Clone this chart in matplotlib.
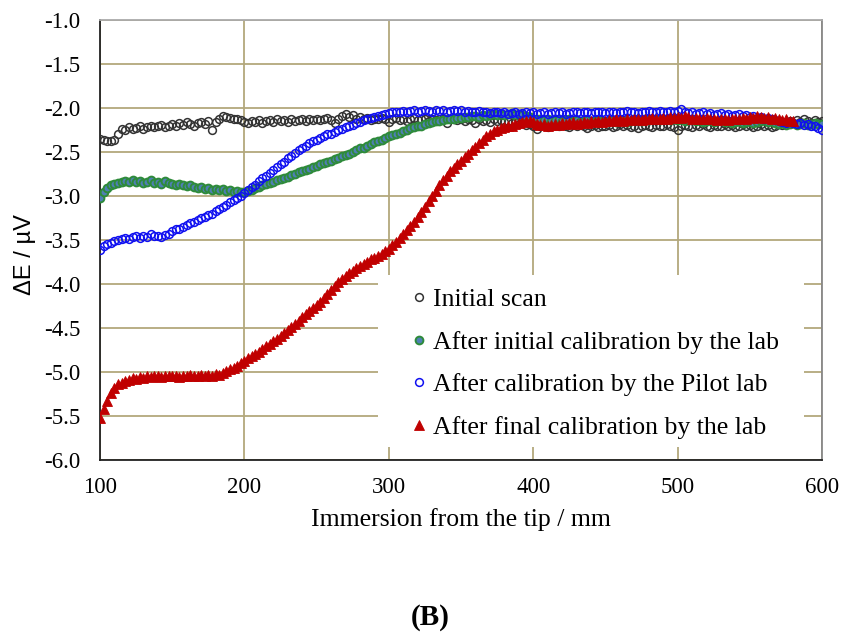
import numpy as np
import matplotlib
matplotlib.use("Agg")
import matplotlib.pyplot as plt
from matplotlib.patches import Rectangle

plt.rcParams["axes.unicode_minus"] = False

# Immersion positions (mm) - scans sampled every 2.5 mm
immersion = np.arange(100, 600.1, 2.5)
immersion_final = np.arange(100, 580.1, 2.5)

initial_scan = [
    -2.35, -2.36, -2.38, -2.37, -2.36, -2.29, -2.24, -2.25, -2.22, -2.24, -2.23, -2.21, -2.24, -2.22, -2.20, -2.22, -2.21, -2.19, -2.22, -2.20,
    -2.18, -2.20, -2.17, -2.19, -2.16, -2.18, -2.20, -2.17, -2.16, -2.18, -2.15, -2.25, -2.16, -2.12, -2.09, -2.10, -2.11, -2.12, -2.13, -2.14,
    -2.16, -2.17, -2.15, -2.16, -2.14, -2.17, -2.15, -2.14, -2.16, -2.13, -2.15, -2.14, -2.16, -2.13, -2.15, -2.14, -2.12, -2.15, -2.13, -2.14,
    -2.12, -2.14, -2.13, -2.11, -2.14, -2.17, -2.12, -2.09, -2.07, -2.10, -2.08, -2.12, -2.10, -2.13, -2.11, -2.14, -2.12, -2.13, -2.11, -2.12,
    -2.16, -2.13, -2.11, -2.14, -2.12, -2.15, -2.13, -2.11, -2.14, -2.12, -2.13, -2.15, -2.12, -2.14, -2.13, -2.12, -2.17, -2.13, -2.12, -2.14,
    -2.13, -2.15, -2.12, -2.14, -2.17, -2.13, -2.15, -2.14, -2.16, -2.13, -2.15, -2.14, -2.16, -2.15, -2.17, -2.16, -2.18, -2.17, -2.19, -2.18,
    -2.20, -2.24, -2.21, -2.19, -2.22, -2.20, -2.18, -2.21, -2.19, -2.20, -2.22, -2.19, -2.21, -2.18, -2.20, -2.23, -2.21, -2.19, -2.22, -2.20,
    -2.21, -2.19, -2.22, -2.20, -2.18, -2.21, -2.19, -2.22, -2.20, -2.23, -2.21, -2.19, -2.20, -2.22, -2.19, -2.21, -2.20, -2.18, -2.21, -2.22,
    -2.25, -2.21, -2.19, -2.20, -2.22, -2.19, -2.21, -2.18, -2.20, -2.22, -2.19, -2.21, -2.20, -2.18, -2.21, -2.19, -2.22, -2.20, -2.18, -2.21,
    -2.19, -2.22, -2.20, -2.18, -2.21, -2.19, -2.22, -2.20, -2.18, -2.19, -2.17, -2.15, -2.17, -2.14, -2.16, -2.13, -2.15, -2.17, -2.14, -2.16,
    -2.15,
]

initial_calibration = [
    -3.02, -2.95, -2.91, -2.88, -2.86, -2.85, -2.84, -2.83, -2.84, -2.82, -2.84, -2.83, -2.85, -2.84, -2.82, -2.85, -2.84, -2.86, -2.83, -2.85,
    -2.86, -2.87, -2.86, -2.88, -2.89, -2.88, -2.90, -2.91, -2.90, -2.92, -2.91, -2.93, -2.92, -2.93, -2.92, -2.94, -2.93, -2.95, -2.94, -2.96,
    -2.95, -2.94, -2.93, -2.91, -2.90, -2.88, -2.86, -2.85, -2.84, -2.82, -2.81, -2.79, -2.78, -2.76, -2.75, -2.73, -2.72, -2.70, -2.69, -2.67,
    -2.66, -2.64, -2.63, -2.61, -2.60, -2.58, -2.57, -2.55, -2.53, -2.52, -2.50, -2.48, -2.46, -2.45, -2.43, -2.41, -2.39, -2.38, -2.36, -2.34,
    -2.32, -2.31, -2.29, -2.28, -2.26, -2.25, -2.23, -2.22, -2.21, -2.20, -2.18, -2.17, -2.16, -2.15, -2.15, -2.14, -2.13, -2.12, -2.12, -2.11,
    -2.11, -2.10, -2.10, -2.09, -2.09, -2.10, -2.08, -2.09, -2.08, -2.07, -2.08, -2.07, -2.08, -2.07, -2.06, -2.08, -2.07, -2.08, -2.09, -2.10,
    -2.12, -2.13, -2.12, -2.14, -2.13, -2.15, -2.14, -2.13, -2.15, -2.14, -2.13, -2.15, -2.14, -2.16, -2.15, -2.14, -2.16, -2.15, -2.14, -2.15,
    -2.16, -2.15, -2.14, -2.16, -2.15, -2.14, -2.16, -2.15, -2.13, -2.14, -2.15, -2.13, -2.14, -2.12, -2.13, -2.14, -2.12, -2.13, -2.14, -2.13,
    -2.14, -2.13, -2.15, -2.14, -2.13, -2.15, -2.14, -2.16, -2.15, -2.14, -2.16, -2.15, -2.14, -2.16, -2.15, -2.17, -2.16, -2.15, -2.17, -2.16,
    -2.15, -2.17, -2.16, -2.15, -2.14, -2.16, -2.15, -2.17, -2.18, -2.17, -2.19, -2.18, -2.17, -2.19, -2.18, -2.17, -2.19, -2.18, -2.17, -2.18,
    -2.18,
]

pilot_calibration = [
    -3.61, -3.57, -3.55, -3.53, -3.51, -3.50, -3.49, -3.48, -3.49, -3.47, -3.46, -3.48, -3.45, -3.47, -3.43, -3.46, -3.45, -3.47, -3.44, -3.43,
    -3.40, -3.38, -3.37, -3.35, -3.33, -3.31, -3.29, -3.27, -3.25, -3.24, -3.22, -3.20, -3.17, -3.15, -3.12, -3.10, -3.07, -3.05, -3.02, -3.00,
    -2.97, -2.93, -2.90, -2.87, -2.83, -2.80, -2.77, -2.74, -2.71, -2.67, -2.64, -2.61, -2.57, -2.54, -2.51, -2.48, -2.45, -2.43, -2.40, -2.38,
    -2.36, -2.34, -2.32, -2.30, -2.29, -2.27, -2.25, -2.24, -2.22, -2.20, -2.19, -2.17, -2.16, -2.14, -2.13, -2.11, -2.10, -2.09, -2.08, -2.07,
    -2.06, -2.05, -2.04, -2.04, -2.03, -2.04, -2.03, -2.02, -2.04, -2.03, -2.02, -2.03, -2.04, -2.02, -2.03, -2.02, -2.04, -2.03, -2.02, -2.03,
    -2.02, -2.04, -2.03, -2.05, -2.04, -2.03, -2.05, -2.04, -2.06, -2.05, -2.04, -2.06, -2.05, -2.07, -2.06, -2.05, -2.07, -2.06, -2.05, -2.06,
    -2.05, -2.07, -2.06, -2.05, -2.07, -2.06, -2.04, -2.06, -2.05, -2.07, -2.06, -2.05, -2.04, -2.06, -2.05, -2.04, -2.06, -2.05, -2.04, -2.05,
    -2.06, -2.04, -2.05, -2.06, -2.04, -2.05, -2.03, -2.05, -2.04, -2.06, -2.04, -2.05, -2.03, -2.04, -2.05, -2.03, -2.04, -2.05, -2.03, -2.04,
    -2.03, -2.01, -2.04, -2.06, -2.05, -2.07, -2.06, -2.05, -2.07, -2.06, -2.08, -2.07, -2.06, -2.08, -2.07, -2.09, -2.08, -2.07, -2.09, -2.08,
    -2.10, -2.09, -2.11, -2.10, -2.12, -2.11, -2.13, -2.14, -2.15, -2.16, -2.17, -2.16, -2.17, -2.18, -2.17, -2.19, -2.18, -2.20, -2.21, -2.23,
    -2.25,
]

final_calibration = [
    -5.52, -5.42, -5.33, -5.24, -5.18, -5.14, -5.12, -5.10, -5.09, -5.07, -5.08, -5.06, -5.07, -5.05, -5.06, -5.05, -5.04, -5.06, -5.05, -5.05,
    -5.04, -5.05, -5.06, -5.04, -5.05, -5.03, -5.04, -5.05, -5.03, -5.04, -5.03, -5.04, -5.02, -5.03, -5.01, -4.99, -4.97, -4.95, -4.93, -4.90,
    -4.87, -4.84, -4.82, -4.79, -4.77, -4.74, -4.71, -4.68, -4.65, -4.62, -4.59, -4.56, -4.52, -4.49, -4.45, -4.42, -4.38, -4.34, -4.31, -4.27,
    -4.24, -4.20, -4.16, -4.11, -4.07, -4.02, -3.98, -3.94, -3.91, -3.88, -3.85, -3.82, -3.80, -3.77, -3.75, -3.72, -3.70, -3.68, -3.66, -3.63,
    -3.60, -3.56, -3.52, -3.48, -3.43, -3.39, -3.34, -3.29, -3.24, -3.18, -3.12, -3.06, -3.00, -2.94, -2.88, -2.82, -2.77, -2.72, -2.68, -2.64,
    -2.60, -2.56, -2.52, -2.48, -2.44, -2.40, -2.36, -2.32, -2.29, -2.26, -2.25, -2.23, -2.22, -2.21, -2.20, -2.18, -2.17, -2.16, -2.15, -2.15,
    -2.16, -2.18, -2.19, -2.18, -2.20, -2.19, -2.18, -2.19, -2.17, -2.18, -2.17, -2.16, -2.18, -2.17, -2.16, -2.17, -2.15, -2.16, -2.15, -2.16,
    -2.15, -2.14, -2.15, -2.13, -2.14, -2.15, -2.13, -2.14, -2.12, -2.13, -2.14, -2.12, -2.13, -2.11, -2.12, -2.13, -2.11, -2.12, -2.10, -2.11,
    -2.10, -2.11, -2.09, -2.10, -2.12, -2.11, -2.13, -2.12, -2.11, -2.13, -2.12, -2.14, -2.13, -2.12, -2.14, -2.13, -2.12, -2.13, -2.11, -2.12,
    -2.10, -2.11, -2.09, -2.10, -2.11, -2.10, -2.12, -2.11, -2.13, -2.14, -2.13, -2.15, -2.15,
]

series_labels = [
    "Initial scan",
    "After initial calibration by the lab",
    "After calibration by the Pilot lab",
    "After final calibration by the lab",
]

x_ticks = [100, 200, 300, 400, 500, 600]
y_ticks = [-6.0, -5.5, -5.0, -4.5, -4.0, -3.5, -3.0, -2.5, -2.0, -1.5, -1.0]

serif = "Liberation Serif"
grid_color = "#B3A87C"

fig = plt.figure(figsize=(8.42, 6.37), dpi=100)
ax = fig.add_axes([0.1188, 0.2779, 0.8575, 0.6907])

ax.plot(immersion, initial_scan, linestyle="none", marker="o", markersize=5.6,
        markerfacecolor="none", markeredgecolor="#333333", markeredgewidth=1.1,
        label=series_labels[0], zorder=3)
ax.plot(immersion, initial_calibration, linestyle="none", marker="o", markersize=5.6,
        markerfacecolor="#4F7FB5", markeredgecolor="#2E8B3A", markeredgewidth=1.4,
        label=series_labels[1], zorder=4)
ax.plot(immersion, pilot_calibration, linestyle="none", marker="o", markersize=5.6,
        markerfacecolor="none", markeredgecolor="#1010F0", markeredgewidth=1.1,
        label=series_labels[2], zorder=5)
ax.plot(immersion_final, final_calibration, linestyle="none", marker="^", markersize=6.5,
        markerfacecolor="#C00000", markeredgecolor="#C00000", markeredgewidth=0.6,
        label=series_labels[3], zorder=6)

ax.set_xlim(100, 600)
ax.set_ylim(-6.0, -1.0)
ax.set_xticks(x_ticks)
ax.set_yticks(y_ticks)
ax.set_xticklabels([str(v) for v in x_ticks])
ax.set_yticklabels([f"{v:.1f}" for v in y_ticks])
ax.tick_params(length=0, labelsize=16.5)
ax.tick_params(axis="x", pad=12)
ax.tick_params(axis="y", pad=14)
for lab in ax.get_xticklabels() + ax.get_yticklabels():
    lab.set_fontfamily(serif)

ax.set_axisbelow(True)
ax.grid(True, color=grid_color, linewidth=1.3)

for side in ("left", "bottom"):
    ax.spines[side].set_color("#222222")
    ax.spines[side].set_linewidth(1.3)
ax.spines["top"].set_color("#AAAAAA")
ax.spines["top"].set_linewidth(1.3)
ax.spines["right"].set_color("#888888")
ax.spines["right"].set_linewidth(1.3)

ax.set_xlabel("Immersion from the tip / mm", fontsize=18.5, fontfamily=serif)
ax.xaxis.set_label_coords(0.5, -0.11)
ax.set_ylabel("ΔE / µV", fontsize=17, fontfamily="Liberation Sans")
ax.yaxis.set_label_coords(-0.088, 0.466)

# white panel behind the legend hides the grid there
ax.add_patch(Rectangle((0.385, 0.0295), 0.59, 0.391, transform=ax.transAxes,
                       facecolor="white", edgecolor="none", zorder=1))

ax.legend(loc="upper left", bbox_to_anchor=(0.431, 0.391), frameon=False,
          borderpad=0, borderaxespad=0, handlelength=0.6, handletextpad=0.25,
          labelspacing=0.77, prop={"family": serif, "size": 18.5})

fig.text(0.511, 0.03, "(B)", fontsize=21, fontweight="bold", fontfamily=serif,
         ha="center", va="center")

fig.savefig("out.png", dpi=100)
